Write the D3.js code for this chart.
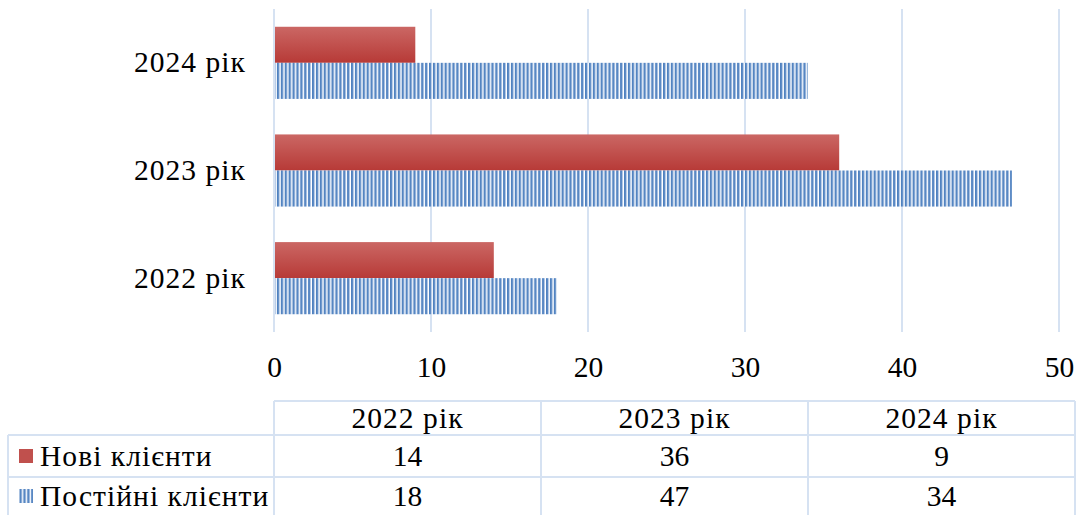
<!DOCTYPE html>
<html>
<head>
<meta charset="utf-8">
<script src="https://cdn.jsdelivr.net/npm/d3@7"></script>
<style>
  html, body { margin: 0; padding: 0; background: #fff; }
  svg { display: block; }
</style>
</head>
<body>
<svg id="chart" width="1078" height="515"></svg>
<script>
// Client counts by year
const years = ["2022 рік", "2023 рік", "2024 рік"];
const seriesNames = ["Нові клієнти", "Постійні клієнти"];
const newClients = [14, 36, 9];
const regularClients = [18, 47, 34];
const xTicks = [0, 10, 20, 30, 40, 50];

const series = [
  { name: seriesNames[0], values: newClients, fill: "url(#redGrad)", key: "#c0504d" },
  { name: seriesNames[1], values: regularClients, fill: "url(#vstripes)", key: "url(#vstripes)" }
];

const svg = d3.select("#chart");
const gridColor = "#d6e2f2";
const fontSize = 29.5;
const serifFont = '"Liberation Serif"';
const textStyle = sel => sel.style("font-family", serifFont).style("font-size", fontSize + "px").attr("fill", "#000");
const wordStyle = sel => sel.call(textStyle).style("letter-spacing", "1.05px");

// Fills: red gradient and blue vertical stripes
const defs = svg.append("defs");
const grad = defs.append("linearGradient").attr("id", "redGrad")
  .attr("x1", 0).attr("y1", 0).attr("x2", 0).attr("y2", 1);
grad.append("stop").attr("offset", "0%").attr("stop-color", "#cb6764");
grad.append("stop").attr("offset", "100%").attr("stop-color", "#b73a37");

const pat = defs.append("pattern").attr("id", "vstripes")
  .attr("patternUnits", "userSpaceOnUse").attr("width", 3.9).attr("height", 10);
pat.append("rect").attr("width", 3.9).attr("height", 10).attr("fill", "#ffffff");
pat.append("rect").attr("x", 0).attr("width", 1.9).attr("height", 10).attr("fill", "#4f81c0");
pat.append("rect").attr("x", 1.9).attr("width", 0.8).attr("height", 10).attr("fill", "#9fbbe0");

// Scales
const x = d3.scaleLinear().domain([0, 50]).range([274, 1059]);
const yOrder = years.slice().reverse();
const y = d3.scaleBand().domain(yOrder).range([9, 332]).paddingInner(0.33).paddingOuter(0.165);
const ySub = d3.scaleBand().domain(seriesNames).range([0, y.bandwidth()]);

// Vertical gridlines
svg.append("g").selectAll("line").data(xTicks).join("line")
  .attr("x1", d => x(d)).attr("x2", d => x(d))
  .attr("y1", 9).attr("y2", 332)
  .attr("stroke", gridColor).attr("stroke-width", 2);

// Bars
const groups = svg.append("g").selectAll("g").data(years).join("g")
  .attr("transform", d => `translate(0,${y(d)})`);
groups.selectAll("rect").data((d, i) => series.map(s => ({ s, v: s.values[i] })))
  .join("rect")
  .attr("x", x(0) + 1)
  .attr("y", d => ySub(d.s.name))
  .attr("width", d => x(d.v) - x(0) - 1)
  .attr("height", ySub.bandwidth())
  .attr("fill", d => d.s.fill);

// X axis tick labels
const xAxis = d3.axisBottom(x).tickValues(xTicks).tickSize(0).tickPadding(0);
const gx = svg.append("g").attr("transform", "translate(0,356)").call(xAxis);
gx.select(".domain").remove();
gx.selectAll("text").call(textStyle).attr("dy", "0.72em");

// Y axis category labels
const yAxis = d3.axisLeft(y).tickSize(0).tickPadding(0);
const gy = svg.append("g").attr("transform", "translate(246,0)").call(yAxis);
gy.select(".domain").remove();
gy.selectAll("text").call(wordStyle);

// Data table
const colX = d3.scaleBand().domain(years).range([274, 1075]);
const rowTop = [401, 435, 477, 519];
const tbl = svg.append("g");
const lineStyle = sel => sel.attr("stroke", gridColor).attr("stroke-width", 2).attr("fill", "none");

// horizontal rules
tbl.append("line").attr("x1", 274).attr("x2", 1075).attr("y1", rowTop[0]).attr("y2", rowTop[0]).call(lineStyle);
[rowTop[1], rowTop[2], rowTop[3]].forEach(yy => {
  tbl.append("line").attr("x1", 8).attr("x2", 1075).attr("y1", yy).attr("y2", yy).call(lineStyle);
});
// vertical rules
tbl.append("line").attr("x1", 8).attr("x2", 8).attr("y1", rowTop[1]).attr("y2", rowTop[3]).call(lineStyle);
[274, 541, 808, 1075].forEach(xx => {
  tbl.append("line").attr("x1", xx).attr("x2", xx).attr("y1", rowTop[0]).attr("y2", rowTop[3]).call(lineStyle);
});

// header labels
tbl.selectAll("text.hdr").data(years).join("text").attr("class", "hdr")
  .attr("x", d => colX(d) + colX.bandwidth() / 2)
  .attr("y", (rowTop[0] + rowTop[1]) / 2)
  .attr("dy", "0.35em").attr("text-anchor", "middle")
  .call(wordStyle).text(d => d);

// series rows with legend keys
const rowCenters = [456, 496];
series.forEach((s, r) => {
  const cy = rowCenters[r];
  tbl.append("rect").attr("x", 19).attr("y", cy - 7).attr("width", 14).attr("height", 14)
    .attr("fill", s.key);
  tbl.append("text").attr("x", 40).attr("y", cy).attr("dy", "0.35em")
    .call(wordStyle).text(s.name);
  years.forEach((yr, i) => {
    tbl.append("text").attr("x", colX(yr) + colX.bandwidth() / 2).attr("y", cy)
      .attr("dy", "0.35em").attr("text-anchor", "middle")
      .call(textStyle).text(s.values[i]);
  });
});
</script>
</body>
</html>
